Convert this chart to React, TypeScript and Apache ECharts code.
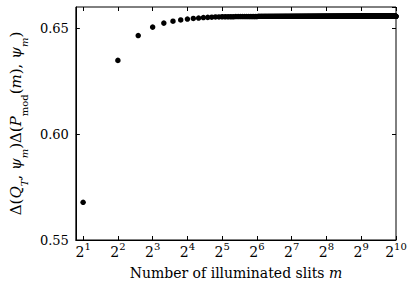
import React, { useEffect, useRef } from "react";
import * as echarts from "echarts";

// number of illuminated slits m: even values 2..1024
const slitCounts: number[] = Array.from({ length: 512 }, (_, i) => 2 * (i + 1));
// values read for m = 2, 4, ..., 64
const headValues = [
  0.5678, 0.6348, 0.6465, 0.6505, 0.6524, 0.6533, 0.6539, 0.6543,
  0.6546, 0.6548, 0.655, 0.6551, 0.6552, 0.6553, 0.6553, 0.6554,
  0.6554, 0.6554, 0.6554, 0.6554, 0.6555, 0.6555, 0.6555, 0.6555,
  0.6555, 0.6555, 0.6555, 0.6555, 0.6555, 0.6555, 0.6555, 0.6555,
];
// plateau value for m > 64
const plateauValue = 0.6556;
const yTicks = [0.55, 0.6, 0.65];

const FONT = "DejaVu Serif";

export default function App() {
  const ref = useRef<HTMLDivElement>(null);
  useEffect(() => {
    if (!ref.current) return;
    const chart = echarts.init(ref.current, null, { renderer: "svg" });
    const data = slitCounts.map((m, i) => [m, i < headValues.length ? headValues[i] : plateauValue]);
    const supLabel = (v: number) => {
      const e = Math.round(Math.log2(v));
      if (Math.abs(Math.log2(v) - e) > 1e-6) return "";
      return "{b|2}{s|" + e + "}";
    };
    const rich = {
      b: { fontFamily: FONT, fontSize: 14, color: "#000", lineHeight: 18, verticalAlign: "bottom" },
      s: { fontFamily: FONT, fontSize: 10, color: "#000", lineHeight: 18, verticalAlign: "top" },
    };
    const tickStyle = { show: true, inside: true, length: 4, lineStyle: { color: "#000", width: 1 } };
    chart.setOption({
      animation: false,
      grid: { left: 62, right: 19, top: 7, bottom: 49, show: true, borderColor: "#000", borderWidth: 1 },
      xAxis: [
        {
          type: "log",
          logBase: 2,
          min: 1.73,
          max: 1024,
          axisLine: { show: true, lineStyle: { color: "#000", width: 1 } },
          axisTick: tickStyle,
          splitLine: { show: false },
          axisLabel: { formatter: supLabel, rich, margin: 1, showMinLabel: false, hideOverlap: false },
          name: "{t|Number of illuminated slits }{i|m}",
          nameLocation: "middle",
          nameGap: 26,
          nameTextStyle: {
            rich: {
              t: { fontFamily: FONT, fontSize: 14, color: "#000" },
              i: { fontFamily: FONT, fontSize: 14, color: "#000", fontStyle: "italic" },
            },
          },
        },
        {
          type: "log",
          logBase: 2,
          min: 1.73,
          max: 1024,
          position: "top",
          axisLine: { show: false },
          axisTick: tickStyle,
          axisLabel: { show: false },
          splitLine: { show: false },
        },
      ],
      yAxis: [
        {
          type: "value",
          min: 0.55,
          max: 0.66,
          interval: 0.05,
          axisLine: { show: true, lineStyle: { color: "#000", width: 1 } },
          axisTick: tickStyle,
          splitLine: { show: false },
          axisLabel: {
            fontFamily: FONT,
            fontSize: 13,
            color: "#000",
            margin: 7,
            showMaxLabel: false,
            formatter: (v: number) => (yTicks.some((t) => Math.abs(t - v) < 1e-9) ? v.toFixed(2) : ""),
          },
          name:
            "{n|Δ(}{i|Q}{si|T}{n|, }{i|ψ}{si|m}{n|)Δ(}{i|P}{s|mod}{n|(}{i|m}{n|), }{i|ψ}{si|m}{n|)}",
          nameLocation: "middle",
          nameGap: 36,
          nameRotate: 90,
          nameTextStyle: {
            rich: {
              n: { fontFamily: FONT, fontSize: 15, color: "#000", lineHeight: 21, verticalAlign: "top" },
              i: { fontFamily: FONT, fontSize: 15, color: "#000", fontStyle: "italic", lineHeight: 21, verticalAlign: "top" },
              s: { fontFamily: FONT, fontSize: 10, color: "#000", lineHeight: 21, verticalAlign: "bottom" },
              si: { fontFamily: FONT, fontSize: 10, color: "#000", fontStyle: "italic", lineHeight: 21, verticalAlign: "bottom" },
            },
          },
        },
        {
          type: "value",
          min: 0.55,
          max: 0.66,
          interval: 0.05,
          position: "right",
          axisLine: { show: false },
          axisTick: tickStyle,
          axisLabel: { show: false },
          splitLine: { show: false },
        },
      ],
      series: [
        {
          type: "scatter",
          data,
          symbol: "circle",
          symbolSize: 5.5,
          itemStyle: { color: "#000", opacity: 1 },
        },
      ],
    });
    return () => chart.dispose();
  }, []);
  return <div ref={ref} style={{ width: 415, height: 289, position: "absolute", left: 0, top: 0 }} />;
}
